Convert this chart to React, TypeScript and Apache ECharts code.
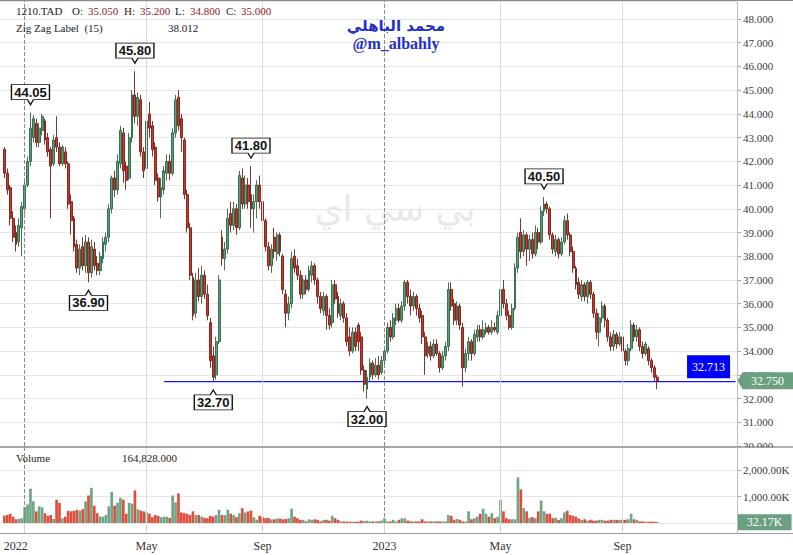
import React, { useEffect, useRef } from 'react';
import * as echarts from 'echarts';

// ---- time axis: trading-session slots per month (sampled sessions) ----
const monthKeys = ['2021-12', '2022-01', '2022-02', '2022-03', '2022-04', '2022-05', '2022-06', '2022-07', '2022-08', '2022-09', '2022-10', '2022-11', '2022-12', '2023-01', '2023-02', '2023-03', '2023-04', '2023-05', '2023-06', '2023-07', '2023-08', '2023-09'];
const sessionsPerMonth = [7, 11, 10, 11, 10, 9, 11, 8, 12, 10, 11, 10, 11, 11, 10, 11, 8, 11, 9, 10, 12, 13];
const monthTickLabels: Record<string, string> = { '2022-01': '2022', '2022-05': 'May', '2022-09': 'Sep', '2023-01': '2023', '2023-05': 'May', '2023-09': 'Sep' };
const yearStartMonths = ['2022-01', '2023-01'];
const emptySlotsBefore = 1;
const emptySlotsAfter = 27;

// ---- candles: [open, close, low, high] ----
const ohlc: number[][] = [
  [42.5, 41.5, 41.3, 42.6], [41.5, 40.8, 40.6, 41.7], [40.9, 39.6, 39.3, 41.0], [39.6, 38.8, 38.6, 39.9], [39.0, 38.5, 38.2, 39.3],
  [38.6, 39.3, 38.4, 39.6], [39.2, 40.1, 38.0, 40.3], [40.0, 41.0, 39.8, 41.2], [41.0, 42.0, 40.9, 42.2], [42.0, 43.4, 41.8, 44.05],
  [43.0, 43.8, 42.8, 43.95], [43.6, 42.8, 42.6, 43.8], [42.8, 43.4, 42.6, 43.6], [43.3, 43.9, 43.1, 44.0], [43.7, 42.9, 42.7, 43.8],
  [43.0, 42.4, 42.2, 43.2], [42.5, 41.8, 39.6, 42.6], [41.9, 42.9, 41.8, 43.1], [43.0, 42.6, 42.4, 43.9], [42.6, 41.9, 41.8, 42.8],
  [41.9, 42.6, 41.8, 42.7], [42.4, 41.9, 41.7, 42.6], [41.9, 40.2, 40.0, 42.0], [40.3, 39.5, 38.9, 40.6], [39.6, 38.4, 38.2, 39.7],
  [38.5, 37.5, 37.3, 38.7], [37.5, 38.3, 37.2, 38.5], [38.4, 37.6, 37.4, 38.8], [37.6, 38.6, 37.3, 38.9], [38.6, 37.3, 36.9, 38.8],
  [37.3, 38.4, 37.1, 38.7], [38.3, 37.6, 37.4, 38.6], [37.7, 37.4, 37.2, 38.0], [37.4, 38.0, 37.2, 38.2], [37.9, 38.6, 37.7, 38.8],
  [38.5, 38.8, 38.2, 39.0], [38.8, 40.0, 38.6, 40.2], [40.0, 41.3, 39.8, 41.4], [41.3, 40.8, 40.5, 41.6], [40.8, 42.0, 40.6, 42.3],
  [41.9, 43.3, 41.7, 43.5], [43.2, 41.6, 41.1, 43.4], [41.8, 41.2, 40.8, 42.0], [41.3, 43.0, 41.2, 43.2], [43.0, 44.8, 42.8, 45.0],
  [44.8, 43.9, 43.6, 45.8], [43.9, 44.7, 43.5, 44.9], [44.6, 42.4, 42.2, 44.8], [42.4, 41.6, 41.3, 42.6], [41.7, 43.7, 41.5, 44.3],
  [44.0, 43.4, 43.0, 44.5], [43.5, 42.5, 42.2, 43.7], [42.6, 41.2, 41.0, 42.8], [41.3, 40.5, 40.3, 41.5], [40.5, 40.9, 39.6, 41.3],
  [40.8, 41.6, 40.6, 41.8], [41.5, 42.0, 41.2, 42.3], [42.0, 41.5, 41.2, 42.3], [41.5, 43.2, 41.4, 43.4], [43.2, 44.6, 43.0, 44.8],
  [44.7, 43.5, 43.3, 45.0], [43.8, 43.0, 42.4, 44.0], [42.9, 40.6, 40.4, 43.0], [40.6, 39.2, 39.0, 40.8], [39.2, 37.2, 37.0, 39.4],
  [37.1, 35.5, 35.3, 37.3], [35.6, 37.0, 35.4, 37.3], [37.0, 36.3, 36.1, 37.5], [36.3, 37.2, 36.0, 37.6], [37.2, 36.4, 36.2, 37.4],
  [36.4, 35.5, 35.3, 36.8], [35.2, 33.6, 33.3, 35.4], [33.8, 32.9, 32.7, 34.2], [33.0, 34.4, 32.8, 34.6], [34.4, 37.0, 34.3, 37.2],
  [38.8, 37.9, 37.6, 39.1], [37.9, 38.3, 37.4, 38.6], [38.3, 39.6, 38.1, 40.0], [39.8, 39.3, 39.0, 40.3], [39.3, 40.0, 39.1, 40.3],
  [40.0, 39.2, 38.9, 40.2], [39.2, 41.4, 39.1, 41.6], [41.3, 40.2, 40.0, 41.7], [40.2, 41.0, 40.0, 41.4], [41.0, 40.3, 40.0, 41.3],
  [40.6, 40.0, 39.2, 41.8], [40.0, 40.3, 39.0, 40.6], [40.3, 41.0, 39.6, 41.2], [41.0, 40.3, 40.0, 41.4], [40.3, 39.5, 39.2, 40.6],
  [39.5, 38.4, 38.2, 39.6], [38.4, 37.6, 37.4, 38.6], [37.6, 38.3, 37.3, 38.5], [38.8, 38.2, 37.9, 39.2], [38.1, 38.9, 37.8, 39.0],
  [38.9, 38.2, 38.0, 39.0], [38.0, 36.6, 36.4, 38.1], [36.4, 35.6, 35.0, 36.6], [35.6, 36.0, 35.3, 36.3], [36.0, 37.9, 35.8, 38.2],
  [38.0, 37.5, 37.3, 38.3], [37.6, 37.2, 37.0, 37.9], [37.2, 36.4, 36.2, 37.4], [36.4, 37.0, 36.2, 37.2], [37.0, 36.6, 36.4, 37.2],
  [36.6, 37.4, 36.5, 37.6], [37.2, 37.6, 36.9, 37.8], [37.6, 37.0, 36.8, 37.7], [37.0, 36.3, 36.0, 37.1], [36.3, 35.8, 35.6, 36.5],
  [35.7, 36.3, 35.5, 36.5], [36.3, 35.5, 34.9, 36.4], [35.5, 35.1, 34.9, 35.8], [35.2, 36.8, 35.0, 37.0], [36.8, 36.2, 36.0, 37.0],
  [36.3, 35.6, 35.4, 36.5], [35.5, 36.0, 35.3, 36.2], [36.0, 35.4, 35.2, 36.1], [35.4, 34.4, 34.2, 35.6], [34.6, 34.0, 33.8, 35.0],
  [34.0, 34.8, 33.9, 35.0], [34.8, 34.2, 34.0, 35.0], [35.1, 34.4, 34.0, 35.2], [34.6, 33.2, 33.0, 34.8], [33.2, 32.6, 32.3, 33.4],
  [32.4, 32.9, 32.0, 33.2], [32.9, 33.5, 32.7, 33.7], [33.5, 33.0, 32.8, 33.6], [33.0, 33.4, 32.9, 33.7], [33.4, 33.0, 32.8, 33.8],
  [33.1, 33.6, 33.0, 33.8], [33.6, 34.0, 33.4, 34.2], [34.0, 35.0, 33.9, 35.2], [35.0, 34.6, 34.4, 35.3], [34.6, 35.4, 34.5, 35.6],
  [35.3, 35.8, 35.1, 36.0], [35.8, 35.3, 35.2, 36.0], [35.3, 35.9, 35.2, 36.1], [35.9, 36.9, 35.7, 37.0], [36.9, 36.3, 36.0, 37.0],
  [36.3, 35.9, 35.5, 36.6], [35.9, 36.3, 35.7, 36.5], [36.3, 35.8, 35.5, 36.4], [35.8, 35.4, 35.2, 36.0], [35.5, 34.6, 34.3, 35.7],
  [34.6, 33.8, 33.0, 34.8], [33.9, 34.2, 33.7, 34.4], [34.2, 33.8, 33.6, 34.4], [33.8, 34.3, 33.7, 34.5], [34.3, 33.9, 33.8, 34.5],
  [33.9, 33.3, 33.1, 34.0], [33.3, 33.8, 33.2, 34.0], [33.8, 34.2, 33.6, 34.4], [34.2, 36.6, 34.0, 36.9], [36.6, 35.9, 35.7, 36.9],
  [36.0, 35.3, 35.1, 36.2], [35.3, 35.9, 35.1, 36.1], [35.9, 35.1, 34.9, 36.0], [35.0, 33.3, 32.5, 35.2], [33.3, 33.9, 33.1, 34.1],
  [33.9, 34.4, 33.6, 34.6], [34.4, 33.9, 33.6, 34.5], [33.9, 34.7, 33.8, 34.9], [34.6, 34.9, 34.4, 35.1], [34.9, 34.6, 34.4, 35.1],
  [34.6, 34.9, 34.5, 35.3], [34.8, 35.0, 34.7, 35.2], [35.0, 34.8, 34.7, 35.1], [34.8, 35.0, 34.7, 35.3], [35.0, 34.9, 34.8, 35.2],
  [34.8, 35.5, 34.7, 35.7], [35.5, 36.6, 35.4, 36.8], [36.6, 36.0, 35.8, 37.0], [36.0, 35.5, 35.3, 36.2], [35.5, 35.0, 34.9, 35.7],
  [35.0, 35.8, 34.9, 36.0], [35.8, 37.5, 35.7, 37.7], [37.5, 38.8, 37.3, 39.0], [39.0, 38.2, 37.9, 39.6], [38.2, 38.9, 38.0, 39.1],
  [38.9, 38.3, 37.6, 39.0], [38.3, 38.7, 37.8, 38.9], [38.7, 38.1, 37.9, 39.0], [38.1, 39.0, 38.0, 39.3], [39.0, 38.6, 38.3, 39.2],
  [38.6, 39.9, 38.5, 40.1], [39.9, 40.2, 39.7, 40.5], [40.2, 40.0, 39.8, 40.3], [40.0, 38.9, 38.7, 40.1], [38.9, 38.3, 38.1, 39.0],
  [38.2, 38.7, 38.0, 38.9], [38.7, 38.1, 37.9, 38.8], [38.1, 38.6, 38.0, 38.8], [38.6, 39.5, 38.5, 39.7], [39.5, 38.9, 38.7, 39.8],
  [38.9, 38.2, 38.0, 39.0], [38.2, 37.5, 37.3, 38.4], [37.5, 36.8, 36.6, 37.6], [36.9, 36.4, 36.2, 37.1], [36.3, 36.8, 36.1, 37.0],
  [36.8, 36.3, 36.1, 36.9], [36.3, 36.9, 36.0, 37.0], [36.9, 36.4, 36.2, 37.0], [36.4, 35.6, 35.4, 36.5], [35.6, 34.8, 34.5, 35.8],
  [34.8, 35.4, 34.2, 35.6], [35.4, 35.9, 35.2, 36.1], [35.9, 35.3, 35.0, 36.0], [35.3, 34.6, 34.4, 35.4], [34.6, 34.2, 34.0, 34.8],
  [34.2, 34.7, 34.0, 34.9], [34.7, 34.3, 34.1, 34.8], [34.3, 34.6, 34.2, 34.8], [34.6, 34.0, 33.8, 34.7], [34.0, 33.6, 33.4, 34.1],
  [33.6, 34.1, 33.4, 34.3], [34.1, 35.1, 34.0, 35.3], [35.1, 34.6, 34.4, 35.2], [34.6, 34.9, 34.4, 35.1], [34.9, 34.2, 34.0, 35.0],
  [34.2, 33.9, 33.7, 34.4], [33.9, 34.3, 33.8, 34.4], [34.1, 33.6, 33.4, 34.2], [33.6, 33.3, 33.1, 33.7], [33.3, 32.9, 32.7, 33.4],
  [32.9, 32.75, 32.4, 33.0],
];

// ---- volume, thousands of shares ----
const volumesK = [
  270, 300, 350, 240, 140, 160, 180, 600, 700, 1300,
  820, 440, 630, 590, 370, 270, 300, 150, 880, 760,
  180, 240, 460, 440, 460, 500, 470, 520, 820, 1040,
  1330, 650, 370, 240, 240, 300, 630, 1170, 650, 760,
  950, 880, 350, 760, 730, 1230, 520, 470, 440, 400,
  350, 220, 300, 270, 220, 240, 240, 190, 1040, 780,
  1120, 400, 370, 350, 300, 440, 300, 300, 240, 200,
  180, 270, 240, 300, 500, 300, 300, 500, 350, 300,
  220, 370, 560, 400, 440, 470, 220, 120, 270, 220,
  180, 190, 140, 140, 170, 170, 140, 150, 180, 540,
  240, 180, 120, 120, 60, 140, 120, 140, 120, 60,
  120, 120, 90, 270, 180, 120, 60, 60, 50, 50,
  50, 50, 50, 90, 60, 90, 60, 60, 60, 60,
  90, 180, 60, 60, 120, 60, 120, 180, 180, 90,
  60, 60, 60, 60, 140, 60, 60, 60, 60, 60,
  60, 60, 60, 300, 270, 120, 150, 120, 60, 60,
  440, 140, 180, 240, 350, 540, 350, 240, 370, 180,
  240, 880, 440, 180, 140, 140, 140, 1720, 1270, 560,
  440, 200, 220, 180, 440, 850, 440, 350, 350, 180,
  200, 120, 180, 400, 460, 300, 270, 240, 170, 120,
  140, 90, 120, 90, 90, 120, 120, 90, 90, 120,
  120, 120, 120, 120, 120, 140, 350, 140, 120, 60,
  60, 50, 50, 50, 50, 32.17,
];

// ---- zig zag pivots (candle number, value, kind) ----
const zigzagCandle = [10, 30, 46, 73, 86, 126, 187];
const zigzagValue = [44.05, 36.9, 45.8, 32.7, 41.8, 32.0, 40.5];
const zigzagKind = ['high', 'low', 'high', 'low', 'high', 'low', 'high'];

// ---- levels / last values ----
const levelLineValue = 32.713;
const levelLineStartCandle = 56;
const lastPrice = 32.75;
const lastVolumeK = 32.17;

// ---- header texts ----
const symbolName = '1210.TAD';
const headerKeys = ['O:', 'H:', 'L:', 'C:'];
const headerValues = ['35.050', '35.200', '34.800', '35.000'];
const indicatorName = 'Zig Zag Label  (15)';
const indicatorValue = '38.012';
const volumeName = 'Volume';
const volumeValue = '164,828.000';

const SERIF = "'Liberation Serif', 'Times New Roman', serif";
const SANS = "'Liberation Sans', Arial, sans-serif";
const UP_FILL = '#5a9f78';
const DOWN_FILL = '#c93b30';
const UP_BORDER = '#2e6446';
const DOWN_BORDER = '#761c15';
const VOL_UP = '#6ea584';
const VOL_DOWN = '#df4d3c';
const TAG_GREEN = '#6aa080';
const GRID = '#e6e6e6';
const LEVEL_BLUE = '#1414ff';

const CALLOUT_DOWN = 'path://M0,0L38,0L38,15L22,15L19,20L16,15L0,15Z';
const CALLOUT_UP = 'path://M0,5L16,5L19,0L22,5L38,5L38,20L0,20Z';
const PRICE_TAG = 'path://M0,8.5L5,0L56,0L56,17L5,17Z';

export default function App() {
  const ref = useRef<HTMLDivElement>(null);

  useEffect(() => {
    if (!ref.current) return;
    const chart = echarts.init(ref.current, undefined, { renderer: 'svg' });

    const categories: string[] = [];
    for (let s = 0; s < emptySlotsBefore; s++) categories.push('pre-' + s);
    const monthFirstIndex: Record<string, number> = {};
    monthKeys.forEach((m, k) => {
      monthFirstIndex[m] = categories.length;
      for (let d = 1; d <= sessionsPerMonth[k]; d++) categories.push(`${m}-${d}`);
    });
    for (let s = 1; s <= emptySlotsAfter; s++) categories.push('post-' + s);
    const lastIdx = categories.length - 1;

    const labelIndex = new Map<number, string>();
    Object.keys(monthTickLabels).forEach((m) => labelIndex.set(monthFirstIndex[m], monthTickLabels[m]));
    const firstLabelIdx = monthFirstIndex['2022-01'];

    const candleData = categories.map((_, idx) => {
      const k = idx - emptySlotsBefore;
      return k >= 0 && k < ohlc.length ? ohlc[k] : '-';
    });
    const volData = categories.map((_, idx) => {
      const k = idx - emptySlotsBefore;
      if (k < 0 || k >= volumesK.length) return '-';
      const up = ohlc[k][1] >= ohlc[k][0];
      return { value: volumesK[k], itemStyle: { color: up ? VOL_UP : VOL_DOWN } };
    });
    const levelData = categories.map((_, idx) =>
      idx >= levelLineStartCandle ? levelLineValue : '-'
    );

    const vLines = Object.keys(monthTickLabels).map((m) => ({
      xAxis: categories[monthFirstIndex[m]],
      lineStyle: yearStartMonths.includes(m)
        ? { color: '#8a8a8a', type: 'dashed', width: 1 }
        : { color: '#dcdcdc', type: 'solid', width: 1 },
    }));

    const zigzagPoints = zigzagCandle.map((c, j) => {
      const high = zigzagKind[j] === 'high';
      return {
        coord: [categories[c], zigzagValue[j]],
        symbol: high ? CALLOUT_DOWN : CALLOUT_UP,
        symbolSize: [38, 20],
        symbolOffset: [0, high ? -18 : 18],
        itemStyle: { color: '#ffffff', borderColor: '#111111', borderWidth: 1 },
        label: {
          show: true,
          position: 'inside',
          formatter: zigzagValue[j].toFixed(2),
          offset: [0, high ? -2.5 : 2.5],
          color: '#111',
          fontSize: 13,
          fontWeight: 'bold',
          fontFamily: SANS,
        },
      };
    });

    const axisLabelBase = { color: '#3a3a3a', fontFamily: SERIF, fontSize: 11 };

    const option: any = {
      animation: false,
      backgroundColor: '#ffffff',
      grid: [
        { left: 0, top: 1, width: 737, height: 445 },
        { left: 0, top: 447, width: 737, height: 76 },
      ],
      xAxis: [
        {
          type: 'category', gridIndex: 0, data: categories, boundaryGap: true,
          axisLine: { show: false }, axisTick: { show: false }, axisLabel: { show: false }, splitLine: { show: false },
        },
        {
          type: 'category', gridIndex: 1, data: categories, boundaryGap: true,
          axisLine: { show: false },
          axisTick: {
            show: true, alignWithLabel: true, length: 10,
            interval: (index: number) => labelIndex.has(index),
            lineStyle: { color: '#d0d0d0' },
          },
          axisLabel: {
            show: true,
            interval: (index: number) => labelIndex.has(index),
            formatter: (_v: string, index: number) => {
              const l = labelIndex.get(index);
              if (!l) return '';
              return index === firstLabelIdx ? `{shift|${l}}` : l;
            },
            margin: 17,
            color: '#333', fontFamily: SERIF, fontSize: 12,
            rich: { shift: { padding: [0, 18, 0, 0], color: '#333', fontFamily: SERIF, fontSize: 12 } },
          },
          splitLine: { show: false },
        },
      ],
      yAxis: [
        {
          type: 'value', gridIndex: 0, position: 'right', min: 30, max: 48.76, interval: 1, scale: false,
          axisLine: { show: false },
          axisTick: { show: true, length: 4, lineStyle: { color: '#aaa' } },
          axisLabel: { ...axisLabelBase, margin: 6, showMaxLabel: false, formatter: (v: number) => v.toFixed(3) },
          splitLine: { show: true, lineStyle: { color: GRID } },
        },
        {
          type: 'value', gridIndex: 1, position: 'right', min: 0, max: 2870, interval: 1000,
          axisLine: { show: false },
          axisTick: { show: true, length: 4, lineStyle: { color: '#aaa' } },
          axisLabel: {
            ...axisLabelBase, margin: 6, showMinLabel: false, showMaxLabel: false,
            formatter: (v: number) => v.toLocaleString('en-US', { minimumFractionDigits: 2, maximumFractionDigits: 2 }) + 'K',
          },
          splitLine: { show: true, lineStyle: { color: GRID } },
        },
      ],
      series: [
        {
          // horizontal level line (drawn under the candles)
          type: 'line',
          xAxisIndex: 0, yAxisIndex: 0,
          data: levelData,
          showSymbol: false,
          symbol: 'none',
          silent: true,
          z: 1,
          lineStyle: { color: LEVEL_BLUE, width: 1.2 },
          endLabel: {
            show: false,
          },
          markPoint: {
            silent: true, animation: false,
            data: [
              {
                coord: [categories[lastIdx], levelLineValue],
                symbol: 'rect', symbolSize: [43, 23], symbolOffset: [-27, -15],
                itemStyle: { color: '#0000ff' },
                label: { show: true, position: 'inside', formatter: levelLineValue.toFixed(3), color: '#fff', fontFamily: SERIF, fontSize: 12 },
              },
            ],
          },
        },
        {
          type: 'candlestick',
          xAxisIndex: 0, yAxisIndex: 0,
          data: candleData,
          barWidth: 2.4,
          z: 2,
          itemStyle: { color: UP_FILL, color0: DOWN_FILL, borderColor: UP_BORDER, borderColor0: DOWN_BORDER, borderWidth: 0.9 },
          markLine: {
            silent: true, animation: false, symbol: ['none', 'none'],
            label: { show: false },
            data: vLines,
          },
          markPoint: {
            silent: true, animation: false,
            data: [
              ...zigzagPoints,
              {
                coord: [categories[lastIdx], lastPrice],
                symbol: PRICE_TAG, symbolSize: [56, 17], symbolOffset: [30, 0],
                itemStyle: { color: TAG_GREEN },
                label: { show: true, position: 'inside', offset: [2, 0], formatter: lastPrice.toFixed(3), color: '#fff', fontFamily: SERIF, fontSize: 12 },
              },
            ],
          },
        },
        {
          type: 'bar',
          xAxisIndex: 1, yAxisIndex: 1,
          data: volData,
          barWidth: '92%',
          markLine: {
            silent: true, animation: false, symbol: ['none', 'none'],
            label: { show: false },
            data: vLines,
          },
          markPoint: {
            silent: true, animation: false,
            data: [
              {
                coord: [categories[lastIdx], lastVolumeK],
                symbol: 'rect', symbolSize: [54, 16], symbolOffset: [29, 0],
                itemStyle: { color: TAG_GREEN },
                label: { show: true, position: 'inside', formatter: lastVolumeK.toFixed(2) + 'K', color: '#fff', fontFamily: SERIF, fontSize: 12 },
              },
            ],
          },
        },
      ],
      graphic: [
        { type: 'rect', z: 10, shape: { x: 738, y: 447.5, width: 55, height: 9 }, style: { fill: '#ffffff' } },
        { type: 'line', z: 11, shape: { x1: 0, y1: 0.5, x2: 793, y2: 0.5 }, style: { stroke: '#8a8a8a', lineWidth: 1 } },
        { type: 'line', z: 11, shape: { x1: 0, y1: 447, x2: 793, y2: 447 }, style: { stroke: '#666666', lineWidth: 1 } },
        { type: 'line', z: 11, shape: { x1: 0, y1: 533.5, x2: 793, y2: 533.5 }, style: { stroke: '#9a9a9a', lineWidth: 1 } },
        { type: 'line', z: 11, shape: { x1: 737.5, y1: 0, x2: 737.5, y2: 533 }, style: { stroke: '#bdbdbd', lineWidth: 1 } },
        // header
        { type: 'text', z: 12, x: 16, y: 11, style: { text: symbolName, fill: '#222', font: `11px ${SERIF}`, textVerticalAlign: 'middle' } },
        ...headerKeys.flatMap((k, j) => [
          { type: 'text', z: 12, x: [72, 124, 175, 226][j], y: 11, style: { text: k, fill: '#222', font: `11px ${SERIF}`, textVerticalAlign: 'middle' } },
          { type: 'text', z: 12, x: [88, 140, 190, 241][j], y: 11, style: { text: headerValues[j], fill: '#8b1a1a', font: `11px ${SERIF}`, textVerticalAlign: 'middle' } },
        ]),
        { type: 'text', z: 12, x: 16, y: 28, style: { text: indicatorName, fill: '#222', font: `11px ${SERIF}`, textVerticalAlign: 'middle' } },
        { type: 'text', z: 12, x: 168, y: 28, style: { text: indicatorValue, fill: '#222', font: `11px ${SERIF}`, textVerticalAlign: 'middle' } },
        { type: 'text', z: 12, x: 16, y: 458, style: { text: volumeName, fill: '#222', font: `11px ${SERIF}`, textVerticalAlign: 'middle' } },
        { type: 'text', z: 12, x: 122, y: 458, style: { text: volumeValue, fill: '#222', font: `11px ${SERIF}`, textVerticalAlign: 'middle' } },
        // watermarks
        { type: 'text', z: 1, x: 395, y: 208, style: { text: 'بي سي اي', fill: '#e9e9e9', font: `36px 'DejaVu Sans', sans-serif`, textAlign: 'center', textVerticalAlign: 'middle' } },
        { type: 'text', z: 12, x: 396, y: 26, style: { text: 'محمد الباهلي', fill: '#1f2fcf', font: `bold 15px 'DejaVu Sans', sans-serif`, textAlign: 'center', textVerticalAlign: 'middle' } },
        { type: 'text', z: 12, x: 396, y: 43, style: { text: '@m_albahly', fill: '#1f2fcf', font: `bold 16px ${SERIF}`, textAlign: 'center', textVerticalAlign: 'middle' } },
      ],
    };

    chart.setOption(option);
    return () => chart.dispose();
  }, []);

  return (
    <div
      ref={ref}
      style={{ position: 'fixed', left: 0, top: 0, width: 793, height: 555, background: '#fff' }}
    />
  );
}
